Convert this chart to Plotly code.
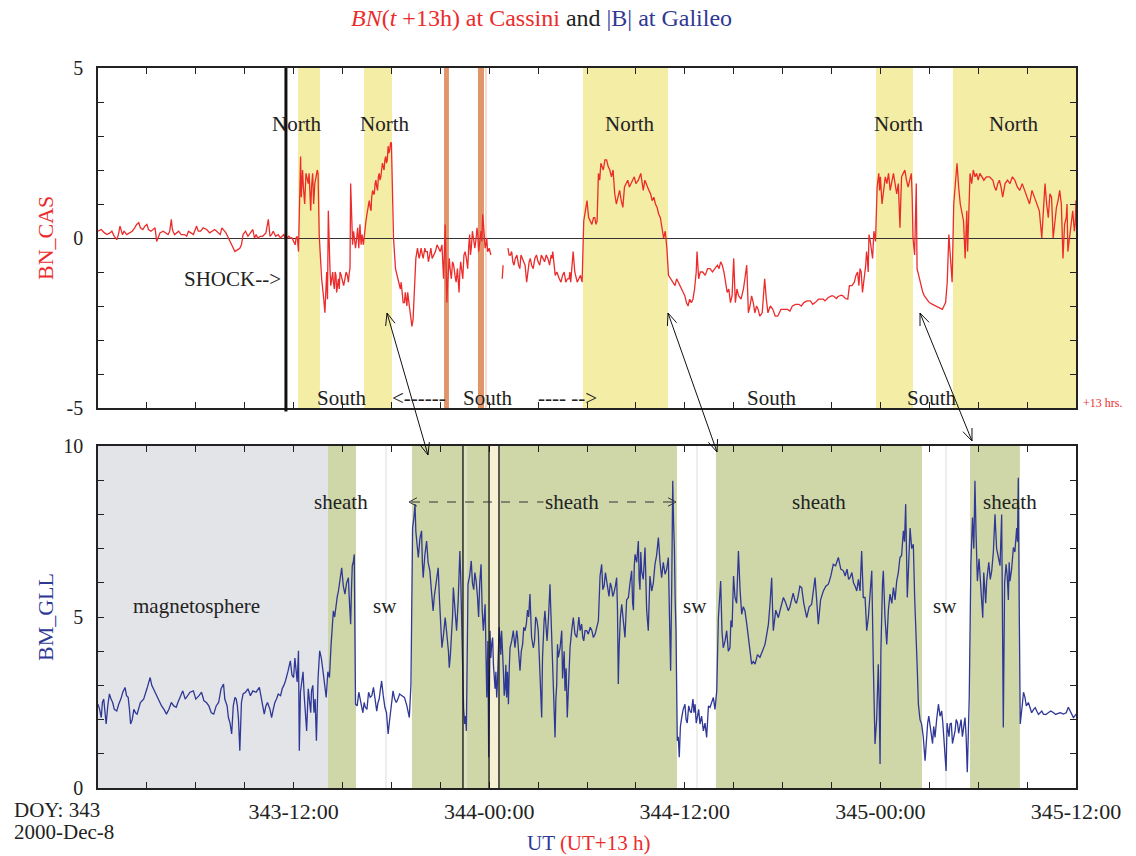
import math
import plotly.graph_objects as go

# ---------------- data (hours after DOY 343 00:00 UT) ----------------
cas_t = [0.0, 0.4, 0.74, 1.0, 1.15, 1.35, 1.5, 1.76, 2.1, 2.37, 2.6, 2.88, 3.1, 3.4, 3.6, 3.8, 4.0, 4.3, 4.5, 4.6,
         4.8, 5.1, 5.44, 5.7, 6.05, 6.3, 6.67, 7.0, 7.28, 7.5, 7.7, 8.0, 8.2, 8.4, 8.55, 8.7, 8.9, 9.2, 9.5, 9.6,
         9.8, 10.1, 10.45, 10.65, 10.9, 11.2, 11.4, 11.6, 11.8, 12.0, 12.15, 12.3, 12.35, 12.43, 12.5, 12.6, 12.76, 12.9, 13.0, 13.05,
         13.17, 13.3, 13.45, 13.57, 13.65, 13.72, 13.85, 13.92, 14.03, 14.13, 14.23, 14.35, 14.44, 14.55, 14.64, 14.75, 14.85, 15.0, 15.15, 15.3,
         15.42, 15.5, 15.62, 15.75, 15.87, 16.0, 16.07, 16.2, 16.28, 16.44, 16.58, 16.7, 16.79, 16.9, 17.0, 17.1, 17.2, 17.3, 17.4, 17.5,
         17.6, 17.7, 17.8, 17.9, 18.0, 18.05, 18.13, 18.25, 18.4, 18.55, 18.65, 18.8, 18.9, 19.0, 19.1, 19.26, 19.4, 19.5, 19.6, 19.75,
         19.9, 20.05, 20.2, 20.35, 20.5, 20.7, 20.9, 21.1, 21.2, 21.3, 21.4, 21.5, 21.6, 21.75, 21.9, 22.1, 22.2, 22.3, 22.45, 22.6,
         22.8, 22.9, 23.05, 23.2, 23.3, 23.4, 23.6, 23.7, 23.8, 23.9, 24.1, 24.45, 24.8, 24.85, 25.0, 25.15, 25.3, 25.45, 25.6, 25.8,
         25.95, 26.1, 26.3, 26.45, 26.6, 26.8, 27.0, 27.2, 27.4, 27.6, 27.8, 27.9, 28.05, 28.3, 28.5, 28.7, 28.9, 29.0, 29.15, 29.4,
         29.6, 29.8, 30.0, 30.2, 30.4, 30.55, 30.7, 30.85, 31.0, 31.2, 31.4, 31.5, 31.8, 32.0, 32.2, 32.4, 32.6, 32.8, 33.0, 33.3,
         33.45, 33.7, 33.9, 34.1, 34.3, 34.5, 34.7, 34.9, 35.0, 35.3, 35.5, 35.7, 35.9, 36.1, 36.3, 36.5, 36.7, 36.75, 36.85, 37.1,
         37.4, 37.7, 38.0, 38.2, 38.4, 38.6, 38.8, 39.0, 39.1, 39.3, 39.6, 39.8, 39.9, 40.2, 40.4, 40.6, 40.9, 41.1, 41.4, 41.7,
         41.9, 42.3, 42.6, 43.0, 43.3, 43.7, 44.0, 44.5, 44.8, 45.1, 45.4, 45.7, 46.0, 46.1, 46.4, 46.6, 46.75, 46.9, 47.1, 47.2,
         47.3, 47.45, 47.6, 47.7, 47.8, 47.9, 48.1, 48.3, 48.6, 48.8, 49.0, 49.2, 49.3, 49.5, 49.7, 49.9, 50.0, 50.1, 50.2, 50.25,
         50.4, 50.5, 50.7, 51.0, 51.4, 51.8, 52.0, 52.1, 52.2, 52.3, 52.4, 52.5, 52.7, 52.8, 52.9, 53.1, 53.2, 53.3, 53.35, 53.5,
         53.8, 53.9, 54.2, 54.5, 54.9, 55.1, 55.3, 55.5, 55.8, 56.1, 56.4, 56.7, 57.0, 57.3, 57.6, 57.9, 58.1, 58.3, 58.5, 58.6,
         58.8, 59.0, 59.2, 59.4, 59.5, 59.7, 59.9, 60.0]
cas_v = [0.2, 0.15, 0.15, 0.05, -0.05, 0.35, 0.1, 0.1, 0.2, 0.4, 0.3, 0.35, 0.25, 0.25, -0.1, 0.15, 0.2, 0.1, 0.55, 0.2,
         0.15, 0.1, 0.05, 0.15, 0.35, 0.2, 0.25, 0.2, 0.2, 0.1, 0.25, 0.0, -0.2, -0.4, -0.35, -0.3, 0.1, 0.05, 0.25, 0.0,
         0.0, 0.05, 0.55, 0.1, 0.05, 0.0, 0.1, 0.0, 0.0, -0.1, 0.0, -0.4, 0.5, 2.4, 1.8, 1.5, 1.9, 1.6, 1.3, 0.8,
         1.9, 1.6, 2.0, 0.1, -0.6, -1.2, -1.8, -2.2, -1.0, 0.8, -0.9, -1.2, -1.3, -1.0, -1.6, -1.2, -1.0, -1.3, -1.2, -1.1,
         -1.0, 1.6, -0.2, -0.1, 0.0, -0.3, 0.4, 0.1, -0.2, 0.5, 1.0, 0.9, 1.2, 1.3, 1.6, 1.5, 1.8, 1.7, 2.0, 2.1,
         2.3, 2.2, 2.7, 2.6, 2.8, 1.5, 0.0, -0.9, -1.2, -1.5, -1.7, -1.9, -1.8, -1.6, -2.0, -2.6, -1.6, -0.6, -0.3, -0.5,
         -0.5, -0.3, -0.4, -0.5, -0.6, -0.4, -0.3, -0.2, -1.2, 0.4, -1.9, -1.0, -0.9, -0.7, -1.1, -1.4, -1.0, -0.9, -0.5, -0.6,
         0.1, -0.3, -0.1, 0.0, 0.1, -0.2, 0.7, 0.0, -0.2, -0.4, -0.5, None, -1.2, -0.8, None, -0.3, -0.5, -0.7, -0.6, -0.8,
         -0.5, -0.7, -1.3, -0.7, -0.8, -0.6, -0.7, -0.5, -0.7, -0.6, -0.5, -0.4, -1.1, -1.2, -1.1, -1.3, -1.2, -1.3, -0.4, -1.3,
         -1.1, 0.5, 1.1, 0.5, 0.6, 0.4, 1.9, 2.2, 2.0, 2.3, 2.0, 1.8, 1.0, 1.4, 0.9, 1.6, 1.5, 1.7, 1.6, 1.9,
         1.4, 1.5, 1.3, 1.2, 0.9, 0.6, 0.0, -0.3, -1.1, -1.3, -1.2, -1.4, -1.6, -1.9, -1.8, -1.8, -1.0, -0.4, -1.2, -1.0,
         -0.9, -1.0, -0.8, -0.7, -1.0, -1.6, -1.9, -0.6, -1.9, -1.7, -1.5, -0.8, -2.2, -1.9, -2.0, -2.3, -1.2, -2.2, -2.1, -2.3,
         -2.1, -2.1, -2.0, -1.95, -1.9, -1.85, -1.9, -1.8, -1.75, -1.7, -1.72, -1.7, -1.8, -1.4, -1.3, -1.0, -0.9, -1.6, -0.8, -0.6,
         0.1, -0.4, 0.2, -0.1, 1.5, 1.9, 1.0, 1.8, 1.4, 1.9, 1.3, 0.3, 1.8, 2.0, 1.5, 1.9, 0.0, -0.5, 1.6, -0.9,
         -1.2, -1.4, -1.7, -1.9, -2.0, -2.1, -1.9, -1.3, 0.1, -0.6, -1.3, 1.0, 2.2, 1.5, 1.0, 0.5, -0.6, 0.8, -0.4, 1.9,
         1.8, 1.9, 1.8, 1.8, 1.7, 1.4, 1.7, 1.2, 1.7, 1.8, 1.5, 1.6, 1.2, 1.4, 1.0, 0.0, 1.6, 0.6, 1.2, 0.0,
         0.9, 1.4, -0.6, 0.6, -0.4, 0.5, 0.2, 1.1]

# additional finer-scale readings of the Cassini trace
cas_fine_t = [0.2, 0.55, 0.85, 1.25, 1.6, 1.9, 2.25, 2.5, 2.75, 3.0, 3.25, 3.5, 3.7, 4.15, 4.4, 4.55, 4.7, 4.95, 5.3, 5.55,
              5.85, 6.15, 6.45, 6.85, 7.15, 7.4, 7.6, 7.85, 8.1, 8.3, 8.8, 9.05, 9.35, 9.7, 9.95, 10.3, 10.55, 10.75, 11.05, 11.3,
              11.5, 11.7, 11.9, 12.1, 12.22, 12.47, 12.55, 12.68, 12.83, 12.95, 13.1, 13.23, 13.38, 13.5, 14.08, 14.18, 14.28, 14.4, 14.5, 14.6,
              14.7, 14.8, 14.92, 15.07, 15.22, 15.36, 15.46, 15.68, 15.8, 15.93, 16.14, 16.35, 16.5, 16.64, 16.75, 16.85, 16.95, 17.05, 17.15, 17.25,
              17.35, 17.45, 17.55, 17.65, 17.75, 17.85, 17.95, 18.3, 18.48, 18.6, 18.72, 18.85, 18.95, 19.05, 19.18, 19.33, 19.45, 19.7, 19.82, 19.95,
              20.1, 20.27, 20.42, 20.6, 20.8, 21.0, 21.45, 21.55, 21.68, 21.82, 21.97, 22.05, 22.15, 22.25, 22.38, 22.52, 22.68, 22.75, 22.85, 22.97,
              23.12, 23.25, 23.35, 23.5, 23.55, 23.65, 23.75, 23.85, 24.0, 25.22, 25.38, 25.52, 25.7, 25.88, 26.02, 26.2, 26.38, 26.52, 26.7, 26.9,
              27.1, 27.3, 27.5, 27.7, 27.85, 28.15, 28.4, 28.6, 28.8, 28.95, 29.25, 29.5, 29.7, 29.9, 30.1, 30.3, 30.48, 30.62, 30.78, 30.92,
              31.1, 31.3, 31.6, 31.7, 31.9, 32.1, 32.3, 32.5, 32.7, 32.9, 33.15, 33.55, 33.8, 34.0, 34.2, 34.4, 34.6, 34.8, 35.15, 35.4,
              35.6, 35.8, 36.0, 36.2, 36.4, 36.6, 36.95, 37.25, 37.55, 37.85, 38.1, 38.3, 38.5, 38.7, 38.9, 39.2, 39.45, 39.7, 40.0, 40.1,
              40.3, 40.5, 40.75, 41.0, 41.25, 41.55, 42.45, 42.8, 43.15, 43.5, 43.85, 44.2, 44.6, 45.0, 45.3, 45.6, 45.85, 46.25, 46.5, 46.68,
              46.82, 47.0, 47.15, 47.25, 47.38, 47.52, 47.65, 47.85, 47.95, 48.0, 48.2, 48.4, 48.5, 48.7, 48.9, 49.1, 49.25, 49.4, 49.6, 49.8,
              49.95, 50.6, 50.85, 51.2, 51.6, 51.9, 53.6, 53.7, 54.0, 54.1, 54.35, 54.7, 55.0, 55.2, 55.4, 55.65, 55.95, 56.25, 56.55, 56.85,
              57.15, 57.45, 57.75, 58.0, 58.2, 58.4, 58.7, 58.9, 59.1, 59.3, 59.45, 59.6, 59.8, 59.95]
cas_fine_v = [0.25, 0.1, 0.2, 0.1, 0.2, 0.15, 0.3, 0.45, 0.25, 0.4, 0.2, 0.3, 0.05, 0.15, 0.2, 0.3, 0.1, 0.2, 0.1, 0.2,
              0.1, 0.2, 0.3, 0.15, 0.25, 0.15, 0.3, 0.15, -0.1, -0.3, -0.2, 0.2, 0.15, 0.1, 0.05, 0.15, 0.05, 0.2, 0.1, 0.05,
              -0.05, 0.05, 0.0, -0.2, 0.05, 1.2, 2.0, 1.0, 1.7, 1.9, 1.5, 1.0, 1.8, 1.9, -1.8, -0.5, -1.4, -1.0, -1.5, -1.1,
              -1.4, -1.5, -1.1, -1.4, -1.0, -1.3, -0.9, 0.2, -0.3, 0.3, -0.2, 0.2, 0.7, 1.1, 0.8, 1.4, 1.3, 1.7, 1.4, 1.9,
              1.8, 2.2, 2.0, 2.4, 2.3, 2.5, 2.8, -1.0, -1.4, -1.3, -1.9, -1.6, -2.0, -1.9, -2.3, -2.4, -1.2, -0.6, -0.3, -0.6,
              -0.4, -0.7, -0.3, -0.5, -0.2, -0.4, -1.3, -0.6, -1.2, -0.8, -1.3, -0.9, -1.6, -0.7, -1.2, -0.4, -0.9, -0.2, -0.5, 0.2,
              -0.3, 0.3, -0.4, 0.2, -0.1, 0.4, -0.3, 0.0, -0.3, -0.5, -0.4, -0.8, -0.5, -0.9, -0.6, -0.8, -0.9, -0.6, -0.9, -0.5,
              -0.8, -0.6, -0.5, -0.8, -0.6, -1.0, -1.3, -1.0, -1.2, -1.0, -1.0, -1.2, -1.3, 0.8, 0.6, 0.4, 0.6, 0.5, 1.7, 2.1,
              2.3, 2.1, 2.0, 1.3, 1.2, 1.1, 1.5, 1.7, 1.6, 1.8, 1.7, 1.7, 1.4, 1.1, 1.0, 0.7, 0.3, 0.2, -1.2, -1.4,
              -1.3, -1.5, -1.7, -2.0, -1.9, -1.5, -1.0, -1.1, -0.9, -0.9, -0.9, -0.8, -1.3, -1.5, -1.7, -1.5, -1.8, -1.2, -2.0, -1.7,
              -2.2, -2.1, -2.2, -1.8, -2.0, -2.3, -2.15, -1.95, -2.0, -1.85, -1.95, -1.8, -1.85, -1.7, -1.78, -1.68, -1.78, -1.4, -1.1, -1.4,
              -1.0, -1.2, -0.4, -1.0, -0.1, -0.6, 0.0, 1.7, 1.4, 1.8, 1.5, 1.6, 1.9, 1.7, 1.6, 1.6, 1.1, 1.9, 1.7, 1.7,
              1.2, -1.6, -1.8, -1.95, -2.05, -2.0, 1.6, 2.0, 1.7, 1.9, 1.7, 1.8, 1.5, 1.6, 1.5, 1.6, 1.6, 1.7, 1.4, 1.4,
              1.0, 1.2, 0.8, 1.0, 1.0, 1.3, 0.4, 1.1, 1.0, 0.4, 1.0, 0.0, 0.8, 0.4]

gll_t = [0.0, 0.2, 0.35, 0.5, 0.7, 0.9, 1.15, 1.4, 1.66, 1.85, 2.0, 2.2, 2.4, 2.8, 3.2, 3.4, 3.6, 3.9, 4.2, 4.5,
         4.8, 5.0, 5.2, 5.5, 5.85, 6.2, 6.5, 6.8, 7.1, 7.4, 7.7, 7.85, 8.0, 8.2, 8.4, 8.55, 8.7, 8.9, 9.2, 9.5,
         9.9, 10.2, 10.4, 10.65, 10.85, 11.06, 11.3, 11.5, 11.8, 12.0, 12.15, 12.3, 12.35, 12.5, 12.65, 12.8, 13.0, 13.1, 13.25, 13.4,
         13.6, 13.8, 14.0, 14.2, 14.3, 14.44, 14.6, 14.75, 14.95, 15.15, 15.36, 15.5, 15.6, 15.72, 15.8, 16.07, 16.25, 16.4, 16.7, 16.9,
         17.1, 17.25, 17.4, 17.6, 17.8, 17.95, 18.1, 18.3, 18.5, 18.8, 19.1, 19.2, 19.3, 19.45, 19.55, 19.65, 19.85, 19.95, 20.16, 20.36,
         20.56, 20.7, 20.87, 21.1, 21.3, 21.45, 21.55, 21.7, 21.8, 22.0, 22.2, 22.3, 22.37, 22.5, 22.6, 22.7, 22.9, 23.05, 23.2, 23.35,
         23.5, 23.64, 23.75, 23.85, 23.92, 23.97, 24.05, 24.15, 24.26, 24.36, 24.46, 24.56, 24.66, 24.76, 24.87, 24.97, 25.07, 25.18, 25.28, 25.48,
         25.69, 25.79, 25.89, 26.05, 26.2, 26.35, 26.5, 26.71, 26.85, 27.01, 27.22, 27.32, 27.42, 27.55, 27.73, 27.83, 27.93, 28.04, 28.14, 28.24,
         28.45, 28.55, 28.65, 28.79, 28.96, 29.16, 29.37, 29.5, 29.67, 29.8, 29.98, 30.2, 30.39, 30.7, 30.9, 31.05, 31.21, 31.35, 31.51, 31.65,
         31.82, 31.92, 32.13, 32.33, 32.54, 32.74, 32.85, 32.95, 33.15, 33.25, 33.35, 33.56, 33.76, 33.97, 34.17, 34.38, 34.58, 34.79, 34.99, 35.13,
         35.26, 35.36, 35.46, 35.54, 35.66, 35.81, 36.01, 36.15, 36.32, 36.5, 36.63, 36.78, 36.93, 37.14, 37.34, 37.55, 37.75, 37.96, 38.06, 38.2,
         38.36, 38.57, 38.77, 38.9, 39.08, 39.29, 39.49, 39.69, 39.9, 40.1, 40.31, 40.61, 40.92, 41.13, 41.33, 41.43, 41.74, 42.05, 42.35, 42.55,
         42.76, 42.95, 43.17, 43.48, 43.78, 43.99, 44.19, 44.5, 44.81, 45.11, 45.42, 45.73, 45.95, 46.14, 46.35, 46.55, 46.75, 46.85, 46.95, 47.06,
         47.26, 47.47, 47.67, 47.87, 47.98, 48.08, 48.18, 48.39, 48.59, 48.8, 49.0, 49.2, 49.41, 49.55, 49.65, 49.82, 50.02, 50.19, 50.33, 50.53,
         50.74, 50.9, 51.04, 51.2, 51.35, 51.56, 51.76, 51.9, 52.03, 52.15, 52.27, 52.42, 52.58, 52.73, 52.88, 53.03, 53.19, 53.33, 53.45, 53.55,
         53.65, 53.8, 53.95, 54.15, 54.28, 54.4, 54.52, 54.83, 55.03, 55.24, 55.44, 55.54, 55.71, 55.85, 55.95, 56.16, 56.36, 56.46, 56.52, 56.58,
         56.87, 57.18, 57.4, 57.59, 57.8, 58.0, 58.3, 58.61, 58.9, 59.22, 59.53, 59.84, 60.0]
gll_v = [2.45, 2.06, 2.6, 1.87, 2.75, 2.5, 2.25, 2.6, 2.94, 2.65, 1.87, 2.3, 2.16, 2.6, 3.23, 2.9, 2.65, 2.4, 2.16, 2.5,
         2.36, 2.6, 2.84, 2.7, 2.84, 2.7, 2.55, 2.4, 2.16, 2.5, 3.04, 2.5, 2.06, 1.58, 2.65, 2.4, 1.09, 2.75, 2.9, 2.84,
         2.94, 2.16, 2.5, 2.06, 2.5, 2.75, 2.9, 3.13, 3.72, 3.23, 3.5, 4.01, 1.09, 3.13, 2.7, 1.67, 2.5, 2.84, 2.2, 1.38,
         4.01, 3.43, 2.65, 3.23, 4.2, 5.18, 5.4, 5.76, 6.44, 5.67, 6.15, 4.79, 6.5, 6.83, 2.45, 2.65, 2.2, 2.36, 2.65, 2.94,
         2.25, 2.6, 3.13, 2.36, 1.58, 2.3, 2.84, 2.5, 2.75, 2.65, 2.06, 3.04, 7.6, 8.3, 7.2, 6.74, 7.52, 6.15, 7.22, 6.35,
         5.18, 5.9, 6.44, 4.1, 4.98, 4.3, 3.52, 4.6, 5.86, 4.6, 6.93, 5.0, 2.84, 1.87, 1.67, 5.96, 6.64, 5.8, 6.05, 5.0,
         6.54, 4.6, 5.37, 2.65, 4.3, 0.9, 4.6, 4.2, 3.6, 2.9, 2.65, 4.0, 4.4, 4.6, 3.43, 2.9, 2.65, 2.45, 4.1, 4.6,
         4.6, 4.0, 3.43, 4.2, 4.6, 5.2, 5.67, 4.1, 5.0, 4.6, 2.06, 4.5, 5.18, 4.3, 5.96, 4.5, 2.84, 1.48, 3.0, 3.82,
         4.6, 3.6, 2.84, 2.06, 4.1, 4.98, 4.4, 5.0, 4.79, 4.3, 4.6, 4.7, 4.4, 4.89, 6.54, 5.9, 6.05, 5.6, 5.86, 5.7,
         6.15, 3.04, 5.37, 4.4, 5.57, 6.35, 5.2, 6.83, 7.22, 5.8, 6.35, 7.03, 4.6, 5.76, 6.54, 7.32, 6.15, 6.25, 6.74, 3.43,
         8.98, 7.03, 4.6, 1.38, 0.9, 2.06, 2.45, 1.9, 2.25, 2.6, 2.45, 2.1, 1.87, 1.67, 1.48, 2.36, 2.65, 2.84, 4.98, 6.05,
         4.1, 4.6, 4.1, 4.7, 5.57, 6.93, 5.08, 5.18, 4.4, 3.62, 3.62, 3.82, 4.2, 4.79, 6.15, 4.6, 4.98, 5.57, 5.18, 5.5,
         5.47, 5.6, 5.86, 4.98, 5.37, 6.15, 4.79, 5.76, 5.96, 6.54, 6.74, 6.35, 6.4, 6.15, 6.0, 5.76, 5.76, 6.93, 5.57, 5.57,
         4.98, 6.35, 1.29, 3.62, 0.7, 5.57, 6.35, 4.2, 5.67, 5.86, 6.05, 6.74, 7.52, 8.3, 5.57, 7.6, 7.13, 4.6, 2.45, 1.87,
         0.8, 1.9, 1.87, 1.3, 1.48, 2.45, 2.25, 1.4, 0.5, 1.6, 1.87, 1.3, 1.67, 1.9, 1.87, 1.5, 2.06, 0.46, 2.65, 6.54,
         7.91, 8.98, 6.05, 6.05, 4.98, 5.6, 6.05, 6.35, 8.0, 6.74, 8.0, 1.77, 6.54, 5.5, 6.05, 7.03, 7.6, 9.07, 5.08, 1.87,
         2.65, 2.36, 2.3, 2.25, 2.2, 2.16, 2.2, 2.21, 2.18, 2.16, 2.36, 2.06, 2.16]

# additional finer-scale readings of the Galileo trace
gll_fine_t = [0.1, 0.27, 0.42, 0.6, 0.8, 1.0, 1.27, 1.52, 1.75, 1.93, 2.1, 2.3, 2.6, 3.0, 3.3, 3.5, 3.75, 4.05, 4.35, 4.65,
              4.9, 5.1, 5.35, 5.65, 6.0, 6.35, 6.65, 6.95, 7.25, 7.55, 7.78, 7.92, 8.1, 8.3, 8.48, 8.62, 8.8, 9.05, 9.35, 9.7,
              10.05, 10.3, 10.55, 10.75, 10.95, 11.2, 11.4, 11.65, 11.9, 12.08, 12.22, 12.42, 12.58, 12.72, 12.9, 13.05, 13.18, 13.32, 13.5, 13.7,
              13.9, 14.1, 14.37, 14.52, 14.68, 14.85, 15.05, 15.25, 15.42, 15.55, 15.66, 15.9, 16.0, 16.15, 16.33, 16.5, 16.6, 16.8, 17.0, 17.18,
              17.33, 17.5, 17.7, 17.87, 18.0, 18.2, 18.4, 18.65, 18.95, 19.38, 19.5, 19.6, 19.75, 19.9, 20.05, 20.25, 20.45, 20.63, 20.78, 20.95,
              21.02, 21.2, 21.38, 21.5, 21.62, 21.75, 21.9, 22.1, 22.25, 22.43, 22.55, 22.65, 22.8, 22.97, 23.12, 23.28, 23.42, 23.57, 24.1, 24.21,
              24.31, 24.41, 24.51, 24.61, 24.71, 24.82, 24.92, 25.02, 25.12, 25.23, 25.38, 25.58, 25.74, 25.84, 25.97, 26.12, 26.28, 26.42, 26.6, 26.78,
              26.93, 27.1, 27.27, 27.37, 27.48, 27.64, 27.78, 27.88, 27.98, 28.09, 28.19, 28.35, 28.5, 28.6, 28.72, 28.88, 29.06, 29.26, 29.44, 29.58,
              29.74, 29.88, 30.08, 30.3, 30.5, 30.6, 30.8, 30.97, 31.13, 31.28, 31.43, 31.58, 31.74, 31.87, 31.97, 32.05, 32.23, 32.43, 32.64, 32.8,
              32.9, 33.05, 33.2, 33.3, 33.45, 33.66, 33.86, 34.07, 34.27, 34.48, 34.68, 34.89, 35.06, 35.2, 35.31, 35.41, 35.6, 35.73, 35.9, 36.08,
              36.24, 36.4, 36.56, 36.7, 36.85, 37.03, 37.24, 37.45, 37.65, 37.85, 38.13, 38.28, 38.47, 38.67, 38.83, 38.99, 39.18, 39.39, 39.59, 39.8,
              40.0, 40.2, 40.46, 40.76, 41.03, 41.23, 41.38, 41.58, 41.9, 42.2, 42.45, 42.65, 42.85, 43.06, 43.3, 43.63, 43.88, 44.09, 44.33, 44.65,
              44.96, 45.25, 45.57, 45.84, 46.05, 46.25, 46.45, 46.65, 47.16, 47.37, 47.57, 47.77, 47.93, 48.03, 48.13, 48.28, 48.49, 48.7, 48.9, 49.1,
              49.3, 49.48, 49.6, 49.73, 49.92, 50.1, 50.26, 50.43, 50.63, 50.82, 50.97, 51.12, 51.27, 51.45, 51.66, 51.83, 51.97, 52.09, 52.21, 52.35,
              52.5, 52.65, 52.8, 52.95, 53.11, 53.26, 53.4, 53.6, 53.73, 53.87, 54.05, 54.2, 54.34, 54.46, 54.65, 54.74, 54.93, 55.13, 55.34, 55.49,
              55.62, 55.78, 55.9, 56.05, 56.25, 56.41, 56.72, 56.78, 56.95, 57.08, 57.28, 57.5, 57.7, 57.9, 58.15, 58.45, 58.75, 59.05, 59.4, 59.68,
              59.92]
gll_fine_v = [2.3, 2.5, 2.2, 2.4, 2.6, 2.3, 2.45, 2.8, 2.7, 2.3, 2.0, 2.2, 2.5, 2.9, 3.0, 2.8, 2.5, 2.3, 2.3, 2.4,
              2.5, 2.7, 2.6, 2.8, 2.6, 2.8, 2.5, 2.2, 2.4, 2.9, 2.6, 2.4, 1.9, 2.4, 2.6, 2.0, 2.5, 2.8, 2.7, 2.8,
              2.5, 2.4, 2.3, 2.3, 2.6, 2.7, 3.0, 3.4, 3.3, 3.8, 3.1, 2.8, 3.4, 2.2, 2.9, 2.2, 3.0, 2.6, 3.2, 3.8,
              3.0, 3.4, 4.6, 5.0, 5.6, 6.1, 5.9, 6.0, 5.5, 5.8, 6.6, 2.4, 2.8, 2.4, 2.5, 2.3, 2.8, 2.7, 2.6, 2.5,
              2.9, 2.7, 2.2, 1.9, 2.5, 2.6, 2.6, 2.7, 2.4, 7.9, 7.5, 7.0, 7.3, 6.6, 6.8, 6.6, 5.8, 5.6, 6.1, 5.5,
              4.8, 4.5, 4.6, 4.0, 3.9, 5.0, 5.2, 5.5, 6.2, 2.3, 2.1, 3.8, 6.2, 6.0, 6.3, 5.6, 6.0, 5.2, 3.8, 4.4,
              3.2, 3.4, 3.1, 4.7, 3.9, 4.1, 2.7, 3.6, 3.4, 3.5, 4.3, 4.1, 4.4, 3.8, 4.0, 4.7, 4.8, 5.0, 4.4, 4.3,
              4.9, 3.5, 3.8, 4.9, 4.6, 5.0, 5.2, 3.8, 2.2, 2.6, 4.2, 4.1, 3.2, 4.0, 3.5, 3.3, 4.6, 4.5, 4.7, 4.6,
              4.4, 4.6, 4.5, 4.6, 4.5, 4.7, 6.2, 5.8, 6.3, 5.8, 6.0, 5.6, 5.9, 5.2, 4.1, 5.0, 4.8, 5.5, 6.0, 5.4,
              6.5, 6.6, 6.1, 6.9, 6.1, 5.2, 6.2, 6.0, 6.8, 6.6, 6.6, 6.4, 5.0, 6.0, 7.8, 5.5, 1.5, 1.8, 2.3, 2.0,
              2.4, 2.2, 2.2, 1.9, 2.3, 2.1, 1.9, 2.4, 2.5, 2.3, 5.5, 4.6, 4.3, 4.0, 4.9, 6.2, 5.4, 5.8, 5.3, 4.8,
              3.9, 3.7, 3.9, 4.0, 4.5, 5.4, 5.3, 5.2, 5.3, 5.4, 5.3, 5.7, 5.4, 5.9, 5.4, 5.3, 5.8, 5.5, 5.5, 5.9,
              6.2, 6.5, 6.4, 6.2, 6.1, 6.3, 5.9, 6.1, 4.6, 5.8, 3.5, 2.0, 2.4, 4.0, 6.0, 5.0, 5.2, 5.4, 5.5, 6.3,
              6.8, 7.2, 6.7, 6.5, 7.0, 5.6, 3.5, 2.0, 1.5, 1.4, 2.1, 1.6, 1.8, 2.0, 2.1, 1.9, 1.0, 1.9, 1.5, 1.9,
              1.5, 2.0, 1.6, 2.0, 1.8, 1.5, 1.7, 7.2, 7.0, 7.4, 6.7, 5.6, 6.3, 5.4, 6.6, 6.1, 6.9, 7.0, 6.5, 4.5,
              6.0, 6.2, 6.6, 6.4, 6.9, 7.2, 2.5, 2.8, 2.4, 2.5, 2.2, 2.35, 2.15, 2.25, 2.15, 2.25, 2.15, 2.2, 2.2, 2.2,
              2.1]

# region boundaries (hours)
north_spans = [(12.27, 13.62), (16.32, 18.04), (29.75, 34.97), (47.73, 50.0), (52.45, 60.0)]
orange_spans = [(21.23, 21.53), (23.31, 23.68)]
shock_time = 11.53
magnetosphere_span = (0.0, 14.11)
sheath_spans = [(14.11, 15.83), (19.26, 35.52), (37.91, 50.55), (53.5, 56.56)]
gll_black_lines = [22.39, 23.99, 24.6]
cream_span = (23.99, 24.6)
faint_lines = [17.67, 36.75, 52.02]

x_tickvals = list(range(0, 61, 3))
x_ticklabels = {12: "343-12:00", 24: "344-00:00", 36: "344-12:00", 48: "345-00:00", 60: "345-12:00"}


def merged(t1, v1, t2, v2):
    pairs = sorted(list(zip(t1, v1)) + list(zip(t2, v2)), key=lambda p: p[0])
    return [p[0] for p in pairs], [p[1] for p in pairs]


cas_x, cas_y = merged(cas_t, cas_v, cas_fine_t, cas_fine_v)
gll_x, gll_y = merged(gll_t, gll_v, gll_fine_t, gll_fine_v)

# ---------------- figure ----------------
W, H = 1136, 856
ML, MR, MT, MB = 98, 60, 68, 68
PX0, PX1, PY0, PY1 = ML, W - MR, MT, H - MB   # plot area in page pixels


def px(xp):
    return (xp - PX0) / (PX1 - PX0)


def py(yp):
    return (PY1 - yp) / (PY1 - PY0)


FONT = "Liberation Serif"
RED = "#ec2b2b"
BLUE = "#2f3895"
TXT = "#222222"
YELLOW = "#f3eda6"
OLIVE = "#cfd7a9"
GRAY = "#e2e4e8"
ORANGE = "#e0956b"

fig = go.Figure()
fig.add_trace(go.Scatter(x=cas_x, y=cas_y, mode="lines", line=dict(color=RED, width=1.3),
                         connectgaps=False, xaxis="x", yaxis="y", showlegend=False, hoverinfo="skip"))
fig.add_trace(go.Scatter(x=gll_x, y=gll_y, mode="lines", line=dict(color=BLUE, width=1.3),
                         xaxis="x2", yaxis="y2", showlegend=False, hoverinfo="skip"))

shapes = []
for a, b in north_spans:
    shapes.append(dict(type="rect", xref="x", yref="y domain", x0=a, x1=b, y0=0, y1=1,
                       fillcolor=YELLOW, line_width=0, layer="below"))
for a, b in orange_spans:
    shapes.append(dict(type="rect", xref="x", yref="y domain", x0=a, x1=b, y0=0, y1=1,
                       fillcolor=ORANGE, line_width=0, layer="below"))
shapes.append(dict(type="line", xref="x", yref="y domain", x0=23.8, x1=23.8, y0=0, y1=1,
                   line=dict(color="#f0b898", width=1), layer="below"))
shapes.append(dict(type="line", xref="x", yref="y domain", x0=shock_time, x1=shock_time, y0=-0.01, y1=1,
                   line=dict(color="#111111", width=3), layer="above"))

shapes.append(dict(type="rect", xref="x2", yref="y2 domain", x0=magnetosphere_span[0], x1=magnetosphere_span[1],
                   y0=0, y1=1, fillcolor=GRAY, line_width=0, layer="below"))
for a, b in sheath_spans:
    shapes.append(dict(type="rect", xref="x2", yref="y2 domain", x0=a, x1=b, y0=0, y1=1,
                       fillcolor=OLIVE, line_width=0, layer="below"))
shapes.append(dict(type="rect", xref="x2", yref="y2 domain", x0=cream_span[0], x1=cream_span[1], y0=0, y1=1,
                   fillcolor="#f6f1d4", line_width=0, layer="below"))
shapes.append(dict(type="rect", xref="x2", yref="y2 domain", x0=22.45, x1=22.64, y0=0, y1=1,
                   fillcolor="#dfe2c2", line_width=0, layer="below"))
for t in faint_lines:
    shapes.append(dict(type="line", xref="x2", yref="y2 domain", x0=t, x1=t, y0=0, y1=1,
                       line=dict(color="#eeeeee", width=2), layer="below"))
for t in gll_black_lines:
    shapes.append(dict(type="line", xref="x2", yref="y2 domain", x0=t, x1=t, y0=0, y1=1,
                       line=dict(color="#111111", width=1.3), layer="above"))


def seg(x0, y0, x1, y1, color="#111111", width=1.0, dash="solid"):
    shapes.append(dict(type="line", xref="paper", yref="paper", x0=px(x0), y0=py(y0), x1=px(x1), y1=py(y1),
                       line=dict(color=color, width=width, dash=dash), layer="above"))


def vhead(hx, hy, fx, fy, length=13, ang=22, color="#111111"):
    # open V arrow head at (hx, hy) for a line coming from (fx, fy)
    dx, dy = hx - fx, hy - fy
    n = math.hypot(dx, dy)
    ux, uy = dx / n, dy / n
    for s in (1, -1):
        a = math.radians(ang) * s
        rx = ux * math.cos(a) - uy * math.sin(a)
        ry = ux * math.sin(a) + uy * math.cos(a)
        seg(hx, hy, hx - length * rx, hy - length * ry, color=color)


# double-headed arrows linking the two panels (page pixels)
for (ax0, ay0), (ax1, ay1) in [((387, 313), (428, 455)), ((668, 313), (717, 452)), ((920, 313), (972, 441))]:
    seg(ax0, ay0, ax1, ay1)
    vhead(ax0, ay0, ax1, ay1)
    vhead(ax1, ay1, ax0, ay0)

# dashed sheath span arrow
seg(411, 502, 674, 502, color="#333333", width=1.2, dash="dash")
vhead(409, 502, 430, 502, length=9, ang=28, color="#333333")
vhead(676, 502, 650, 502, length=9, ang=28, color="#333333")

fig.update_layout(shapes=shapes)

ann = []


def text(xp, yp, s, size=21, color=TXT, xanchor="center", **kw):
    ann.append(dict(x=px(xp), y=py(yp), xref="paper", yref="paper", text=s, showarrow=False,
                    xanchor=xanchor, yanchor="middle", font=dict(family=FONT, size=size, color=color), **kw))


for xp in [296, 384, 629, 898, 1013]:
    text(xp, 124, "North")
for xp in [342, 488, 772, 932]:
    text(xp, 398, "South")
text(419, 398, "&lt;------")
text(567, 398, "---- --&gt;")
text(232, 279, "SHOCK--&gt;")
text(1082, 403, "+13 hrs.", size=12, color=RED, xanchor="left", borderpad=0)

for xp in [341, 819, 1010]:
    text(xp, 502, "sheath")
text(572, 502, "sheath", bgcolor=OLIVE, borderpad=1)
text(196, 606, "magnetosphere")
for xp in [385, 695, 945]:
    text(xp, 606, "sw")

text(12, 810, "DOY: 343", xanchor="left")
text(12, 832, "2000-Dec-8", xanchor="left")
text(588, 843, f"<span style='color:{BLUE}'>UT</span> <span style='color:{RED}'>(UT+13 h)</span>",
     size=21, borderpad=0)
text(541, 18, f"<span style='color:{RED}'><i>BN</i>(<i>t</i> +13h) at Cassini</span> and "
              f"<span style='color:{BLUE}'>|B| at Galileo</span>", size=24, borderpad=0)
text(45, 238, "BN_CAS", size=22, color=RED, textangle=-90)
text(45, 617, "BM_GLL", size=22, color=BLUE, textangle=-90)

fig.update_layout(annotations=ann)

axis_common = dict(showline=True, linecolor="#222222", linewidth=1.5, mirror="ticks", ticks="inside",
                   ticklen=6, tickwidth=1, tickcolor="#222222", showgrid=False)

fig.update_layout(
    width=W, height=H,
    margin=dict(l=ML, r=MR, t=MT, b=MB),
    paper_bgcolor="white", plot_bgcolor="white",
    hovermode=False,
    xaxis=dict(domain=[0, 1], anchor="y", range=[0, 60], tickmode="array", tickvals=x_tickvals,
               showticklabels=False, zeroline=False, **axis_common),
    yaxis=dict(domain=[py(408), 1], anchor="x", range=[-5, 5], tickmode="array",
               tickvals=list(range(-5, 6)), ticktext=["-5", "", "", "", "", "0", "", "", "", "", "5"],
               zeroline=True, zerolinecolor="#333333", zerolinewidth=1, ticklabelstandoff=9,
               tickfont=dict(family=FONT, size=20, color=TXT), **axis_common),
    xaxis2=dict(domain=[0, 1], anchor="y2", range=[0, 60], tickmode="array", tickvals=x_tickvals,
                ticktext=[x_ticklabels.get(v, "") for v in x_tickvals], zeroline=False, ticklabelstandoff=3,
                tickfont=dict(family=FONT, size=22, color=TXT), **axis_common),
    yaxis2=dict(domain=[0, py(446)], anchor="x2", range=[0, 10], tickmode="array",
                tickvals=list(range(0, 11)), ticktext=["0", "", "", "", "", "5", "", "", "", "", "10"],
                zeroline=False, ticklabelstandoff=9,
                tickfont=dict(family=FONT, size=20, color=TXT), **axis_common),
)

# remove the default 8px page margin so the figure fills the window exactly; hide the mode bar
fig.write_html("out.html", config={"displayModeBar": False},
               post_script="document.body.style.margin='0';")
